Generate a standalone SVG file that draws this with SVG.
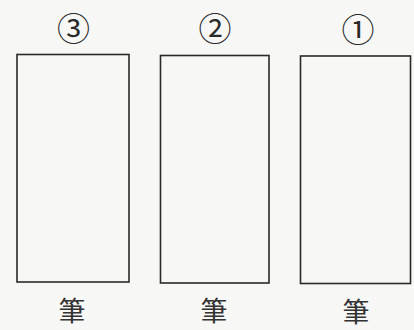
<svg xmlns="http://www.w3.org/2000/svg" width="414" height="330" viewBox="0 0 414 330">
<style>
.box{fill:none;stroke:#2a2a2a;stroke-width:1.6}
.num{font-family:"Noto Sans CJK JP","DejaVu Sans",sans-serif;font-size:33px;fill:#2a2a2a;text-anchor:middle}
.lbl{font-family:"Noto Sans CJK JP",sans-serif;font-size:27px;fill:#333;text-anchor:middle}
</style>
<rect width="414" height="330" fill="#f7f7f5"/>
<g id="box3">
<text class="num" x="73.5" y="40.5">③</text>
<rect class="box" x="17" y="54.5" width="112" height="227.5"/>
<text class="lbl" x="72" y="321">筆</text>
</g>
<g id="box2">
<text class="num" x="215" y="40.5">②</text>
<rect class="box" x="160.5" y="55.5" width="108.5" height="227.5"/>
<text class="lbl" x="214" y="321">筆</text>
</g>
<g id="box1">
<text class="num" x="358" y="42">①</text>
<rect class="box" x="300.5" y="56" width="110" height="227.5"/>
<text class="lbl" x="356" y="322">筆</text>
</g>
<g id="connectors"/>
</svg>
